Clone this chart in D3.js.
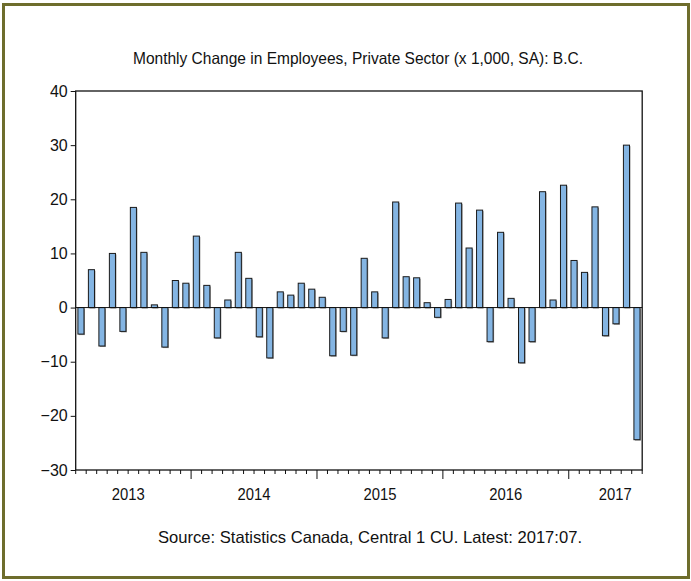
<!DOCTYPE html>
<html><head><meta charset="utf-8">
<script src="https://cdn.jsdelivr.net/npm/d3@7"></script>
<style>body{margin:0;background:#fff}svg{display:block}text{font-family:"Liberation Sans Narrow","Liberation Sans",Arial,sans-serif;fill:#111}</style>
</head><body><svg id="c" width="691" height="581"></svg>
<script>
const title = "Monthly Change in Employees, Private Sector (x 1,000, SA): B.C.";
const source = "Source: Statistics Canada, Central 1 CU. Latest: 2017:07.";
const startYear = 2013, startMonth = 2; // first observation 2013:02
const values = [
  -4.9, 7.0, -7.1, 10.0, -4.4, 18.5, 10.2, 0.5, -7.3, 5.0, 4.5,
  13.2, 4.1, -5.6, 1.4, 10.2, 5.4, -5.4, -9.3, 2.9, 2.3, 4.5, 3.4,
  1.9, -8.9, -4.4, -8.8, 9.1, 2.9, -5.6, 19.5, 5.7, 5.5, 0.9, -1.8,
  1.5, 19.3, 11.0, 18.0, -6.3, 13.9, 1.7, -10.2, -6.3, 21.4, 1.4, 22.6,
  8.7, 6.5, 18.6, -5.2, -3.0, 30.0, -24.4
];
const yTicks = [-30, -20, -10, 0, 10, 20, 30, 40];
const yearLabels = ["2013", "2014", "2015", "2016", "2017"];

const months = values.map((v, i) => {
  const m = startMonth - 1 + i;
  return {y: startYear + Math.floor(m / 12), m: (m % 12) + 1, v, i};
});

const svg = d3.select("#c");
const L = 75.7, R = 642.2, T = 91, B = 470;

// outer frame
svg.append("rect").attr("x", 3.5).attr("y", 4.5).attr("width", 685).attr("height", 573)
  .attr("fill", "none").attr("stroke", "#6e6d2c").attr("stroke-width", 3);

const x = d3.scaleBand().domain(months.map(d => d.i)).range([L, R]).paddingInner(0.42).paddingOuter(0.21);
const step = x.step();
const y = d3.scaleLinear().domain([-30, 40]).range([B, T]);

// bars: shadow + bar
const g = svg.append("g");
g.selectAll("rect.sh").data(months).join("rect")
  .attr("x", d => x(d.i) + 1).attr("width", x.bandwidth())
  .attr("y", d => Math.min(y(d.v), y(0)) + 1).attr("height", d => Math.abs(y(d.v) - y(0)))
  .attr("fill", "#9a9a9a");
g.selectAll("rect.b").data(months).join("rect")
  .attr("x", d => x(d.i)).attr("width", x.bandwidth())
  .attr("y", d => Math.min(y(d.v), y(0))).attr("height", d => Math.abs(y(d.v) - y(0)))
  .attr("fill", "#84b5e3").attr("stroke", "#1a1a1a").attr("stroke-width", 1);

// zero line
svg.append("line").attr("x1", L).attr("x2", R).attr("y1", y(0)).attr("y2", y(0))
  .attr("stroke", "#111").attr("stroke-width", 1);

// plot box
svg.append("rect").attr("x", L).attr("y", T).attr("width", R - L).attr("height", B - T)
  .attr("fill", "none").attr("stroke", "#111").attr("stroke-width", 1.3);

// y axis
const ya = d3.axisLeft(y).tickValues(yTicks).tickSize(5).tickPadding(3).tickFormat(d3.format("d"));
const yg = svg.append("g").attr("transform", `translate(${L},0)`).call(ya);
yg.select(".domain").remove();
yg.selectAll("line").attr("stroke", "#111");
yg.selectAll("text").style("font-size", "16px").style("font-family", "'Liberation Sans Narrow','Liberation Sans',Arial,sans-serif").attr("fill", "#111");

// x ticks at band boundaries
const bounds = d3.range(months.length + 1);
const xt = svg.append("g");
xt.selectAll("line").data(bounds).join("line")
  .attr("x1", i => L + i * step).attr("x2", i => L + i * step)
  .attr("y1", B).attr("y2", i => (i < months.length && months[i].m === 1 && i > 0) ? B + 9 : B + 4)
  .attr("stroke", "#111").attr("stroke-width", 1);

// year labels
yearLabels.forEach(yr => {
  const ms = months.filter(d => String(d.y) === yr);
  const first = ms[0], last = ms[ms.length - 1];
  const janPos = L + (first.i - (first.m - 1)) * step;
  let cx = janPos + 6 * step;
  if (last.m < 12) cx = Math.min(cx, R - 27);
  svg.append("text").attr("x", cx).attr("y", 500).attr("text-anchor", "middle")
    .style("font-size", "16px").attr("textLength", 33).attr("lengthAdjust", "spacingAndGlyphs").text(yr);
});

svg.append("text").attr("x", 358).attr("y", 64).attr("text-anchor", "middle")
  .style("font-size", "16.5px").attr("textLength", 450).attr("lengthAdjust", "spacingAndGlyphs").text(title);
svg.append("text").attr("x", 370).attr("y", 543).attr("text-anchor", "middle")
  .style("font-size", "16.5px").attr("textLength", 424).attr("lengthAdjust", "spacingAndGlyphs").text(source);
</script></body></html>
